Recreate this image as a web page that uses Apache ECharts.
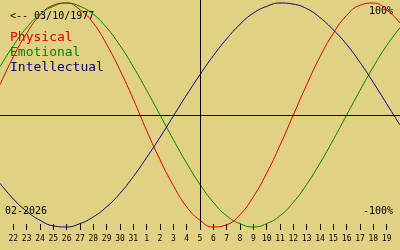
<!DOCTYPE html>
<html><head><meta charset="utf-8">
<script src="https://cdn.jsdelivr.net/npm/echarts@6/dist/echarts.min.js"></script>
<style>html,body{margin:0;padding:0;background:#e1d183;}#c{width:400px;height:250px;}</style>
</head><body><div id="c"></div>
<script>
// Days from Jan 21 to Feb 20 (first and last are the unlabeled edges)
const days = ['21','22','23','24','25','26','27','28','29','30','31','1','2','3','4','5','6','7','8','9','10','11','12','13','14','15','16','17','18','19','20'];
const physical = [27,52,73,89,98,100,94,82,63,40,14,-14,-40,-63,-82,-94,-100,-98,-89,-73,-52,-27,0,27,52,73,89,98,100,94,82];
const emotional = [43,62,78,90,97,100,97,90,78,62,43,22,0,-22,-43,-62,-78,-90,-97,-100,-97,-90,-78,-62,-43,-22,0,22,43,62,78];
const intellectual = [-61,-75,-86,-94,-99,-100,-97,-91,-82,-70,-55,-38,-20,-1,18,36,53,68,81,91,97,100,99,95,87,76,63,47,29,10,-9];
const todayIndex = 15;
const birthLabel = '<-- 03/10/1977';
const monthLabel = '02-2026';
const topLabel = '100%';
const bottomLabel = '-100%';

const mono = 'DejaVu Sans Mono';
const chart = echarts.init(document.getElementById('c'), null, {renderer:'canvas'});
const last = days.length - 1;
chart.setOption({
  backgroundColor: '#e1d183',
  animation: false,
  grid: {left: 0, right: 0, top: 0, bottom: 20},
  legend: {
    orient: 'vertical', left: 0, top: 25, icon: 'none', itemWidth: 0, itemHeight: 15, itemGap: 1,
    selectedMode: false,
    textStyle: {fontFamily: mono, fontSize: 13},
    data: [
      {name: 'Physical', textStyle: {color: '#dd0000'}},
      {name: 'Emotional', textStyle: {color: '#008000'}},
      {name: 'Intellectual', textStyle: {color: '#000080'}}
    ]
  },
  xAxis: {
    type: 'category', data: days, boundaryGap: false,
    axisLine: {show: false, onZero: false},
    axisTick: {show: true, inside: true, length: 6, lineStyle: {color: '#000', width: 1},
      interval: (i) => i > 0 && i < last},
    axisLabel: {interval: (i) => i > 0 && i < last, color: '#000', fontFamily: mono, fontSize: 8, margin: 5},
    splitLine: {show: false}
  },
  yAxis: {
    type: 'value', min: -102.7, max: 102.7, show: false
  },
  graphic: [
    {type: 'text', left: 10, top: 11, style: {text: birthLabel, fill: '#000', font: '10px "DejaVu Sans Mono"'}},
    {type: 'text', right: 7, top: 6, style: {text: topLabel, fill: '#000', font: '10px "DejaVu Sans Mono"'}},
    {type: 'text', right: 7, top: 206, style: {text: bottomLabel, fill: '#000', font: '10px "DejaVu Sans Mono"'}},
    {type: 'text', left: 5, top: 206, style: {text: monthLabel, fill: '#000', font: '10px "DejaVu Sans Mono"'}}
  ],
  series: [
    {name: 'Physical', type: 'line', data: physical, smooth: true, showSymbol: false,
     lineStyle: {color: '#dd0000', width: 1}, itemStyle: {color: '#dd0000'},
     markLine: {silent: true, symbol: 'none', label: {show: false},
       lineStyle: {color: '#000', width: 1, type: 'solid'},
       data: [{xAxis: todayIndex}, {yAxis: 0}]}},
    {name: 'Emotional', type: 'line', data: emotional, smooth: true, showSymbol: false,
     lineStyle: {color: '#008000', width: 1}, itemStyle: {color: '#008000'}},
    {name: 'Intellectual', type: 'line', data: intellectual, smooth: true, showSymbol: false,
     lineStyle: {color: '#000080', width: 1}, itemStyle: {color: '#000080'}}
  ]
});
</script></body></html>
